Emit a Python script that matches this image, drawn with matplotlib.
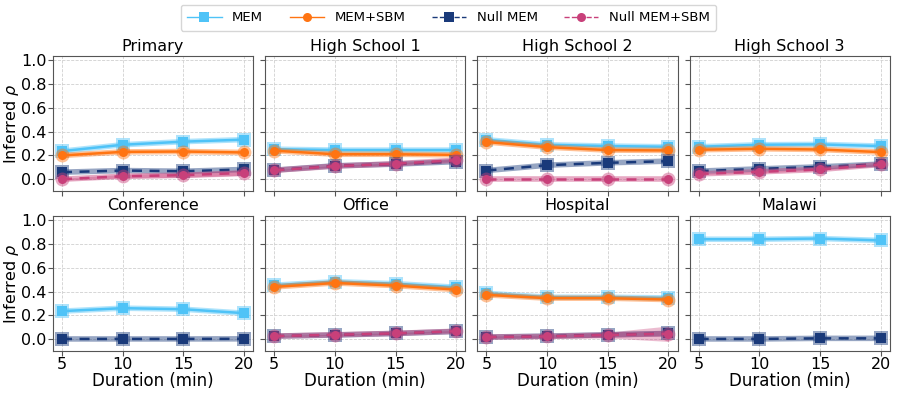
import numpy as np
import matplotlib
matplotlib.use("Agg")
import matplotlib.pyplot as plt
from matplotlib.lines import Line2D

durations = [5, 10, 15, 20]
datasets = ["Primary", "High School 1", "High School 2", "High School 3",
            "Conference", "Office", "Hospital", "Malawi"]

nan = np.nan
mem = {
    "Primary":       [0.236, 0.290, 0.316, 0.333],
    "High School 1": [0.253, 0.245, 0.245, 0.245],
    "High School 2": [0.332, 0.290, 0.279, 0.273],
    "High School 3": [0.273, 0.290, 0.293, 0.279],
    "Conference":    [0.235, 0.260, 0.251, 0.218],
    "Office":        [0.453, 0.483, 0.466, 0.436],
    "Hospital":      [0.385, 0.352, 0.352, 0.346],
    "Malawi":        [0.840, 0.840, 0.846, 0.830],
}
mem_sbm = {
    "Primary":       [0.200, 0.230, 0.233, 0.225],
    "High School 1": [0.240, 0.210, 0.210, 0.205],
    "High School 2": [0.313, 0.270, 0.245, 0.242],
    "High School 3": [0.248, 0.256, 0.250, 0.228],
    "Conference":    [nan, nan, nan, nan],
    "Office":        [0.439, 0.472, 0.450, 0.416],
    "Hospital":      [0.372, 0.344, 0.344, 0.332],
    "Malawi":        [nan, nan, nan, nan],
}
null_mem = {
    "Primary":       [0.059, 0.073, 0.067, 0.082],
    "High School 1": [0.076, 0.113, 0.127, 0.148],
    "High School 2": [0.073, 0.118, 0.138, 0.152],
    "High School 3": [0.068, 0.087, 0.104, 0.127],
    "Conference":    [0.001, 0.001, 0.001, 0.002],
    "Office":        [0.025, 0.034, 0.047, 0.064],
    "Hospital":      [0.017, 0.025, 0.036, 0.047],
    "Malawi":        [0.001, 0.001, 0.006, 0.006],
}
null_mem_sbm = {
    "Primary":       [0.000, 0.025, 0.034, 0.053],
    "High School 1": [0.075, 0.110, 0.130, 0.160],
    "High School 2": [0.000, 0.000, 0.000, 0.000],
    "High School 3": [0.045, 0.062, 0.082, 0.124],
    "Conference":    [nan, nan, nan, nan],
    "Office":        [0.025, 0.036, 0.048, 0.066],
    "Hospital":      [0.017, 0.022, 0.034, 0.045],
    "Malawi":        [nan, nan, nan, nan],
}
# spread (std) of the null MEM+SBM runs, only visible for a few panels
null_mem_sbm_std = {
    "Primary":       [0.008, 0.015, 0.02, 0.025],
    "High School 1": [0.005, 0.006, 0.008, 0.01],
    "High School 2": [0.0, 0.0, 0.0, 0.0],
    "High School 3": [0.006, 0.008, 0.008, 0.01],
    "Conference":    [nan, nan, nan, nan],
    "Office":        [0.004, 0.005, 0.006, 0.008],
    "Hospital":      [0.008, 0.012, 0.025, 0.065],
    "Malawi":        [nan, nan, nan, nan],
}

series = [
    ("MEM", mem, None, "#4FC3F7", "s", "-"),
    ("MEM+SBM", mem_sbm, None, "#FF7412", "o", "-"),
    ("Null MEM", null_mem, None, "#1A3A7A", "s", "--"),
    ("Null MEM+SBM", null_mem_sbm, null_mem_sbm_std, "#C8407A", "o", "--"),
]

fig, axes = plt.subplots(2, 4, figsize=(8.97, 3.93), dpi=100, sharex=True, sharey=True)
fig.subplots_adjust(left=0.059, right=0.992, top=0.857, bottom=0.107,
                    wspace=0.06, hspace=0.185)

x = np.array(durations)
for ax, name in zip(axes.flat, datasets):
    for label, data, std, color, marker, ls in series:
        y = np.array(data[name], dtype=float)
        if std is not None:
            s = np.array(std[name], dtype=float)
            ax.fill_between(x, y - s, y + s, color=color, alpha=0.35, lw=0)
        ax.plot(x, y, color=color, lw=4, alpha=0.45, marker=marker, ms=10,
                markeredgewidth=0)
        ax.plot(x, y, color=color, lw=1.8, ls=ls, marker=marker, ms=6.5,
                markeredgewidth=0, dashes=(4, 3) if ls == "--" else (None, None))
    ax.set_title(name, fontsize=11.5, pad=4)
    ax.grid(True, ls="--", lw=0.6, color="#d0d0d0")
    ax.set_axisbelow(True)
    for sp in ax.spines.values():
        sp.set_color("#555555")
    ax.tick_params(labelsize=11.5, color="#555555", pad=1)

axes[0, 0].set_xlim(4.25, 20.75)
axes[0, 0].set_ylim(-0.1, 1.035)
axes[0, 0].set_xticks(durations)
axes[0, 0].set_yticks([0.0, 0.2, 0.4, 0.6, 0.8, 1.0])
for ax in axes[:, 0]:
    ax.set_ylabel(r"Inferred $\rho$", fontsize=11.5)
    ax.yaxis.set_label_coords(-0.158, 0.5)
for ax in axes[1, :]:
    ax.set_xlabel("Duration (min)", fontsize=12, labelpad=0)

handles = [Line2D([], [], color=c, lw=1, ls=ls, marker=m, ms=6.5, markeredgewidth=0)
           for _, _, _, c, m, ls in series]
fig.legend(handles, [s[0] for s in series], loc="upper center", ncol=4,
           bbox_to_anchor=(0.5, 1.005), fontsize=9.5, frameon=True,
           columnspacing=2.0, handlelength=2.6, borderpad=0.5)

fig.savefig("out.png", dpi=100)
